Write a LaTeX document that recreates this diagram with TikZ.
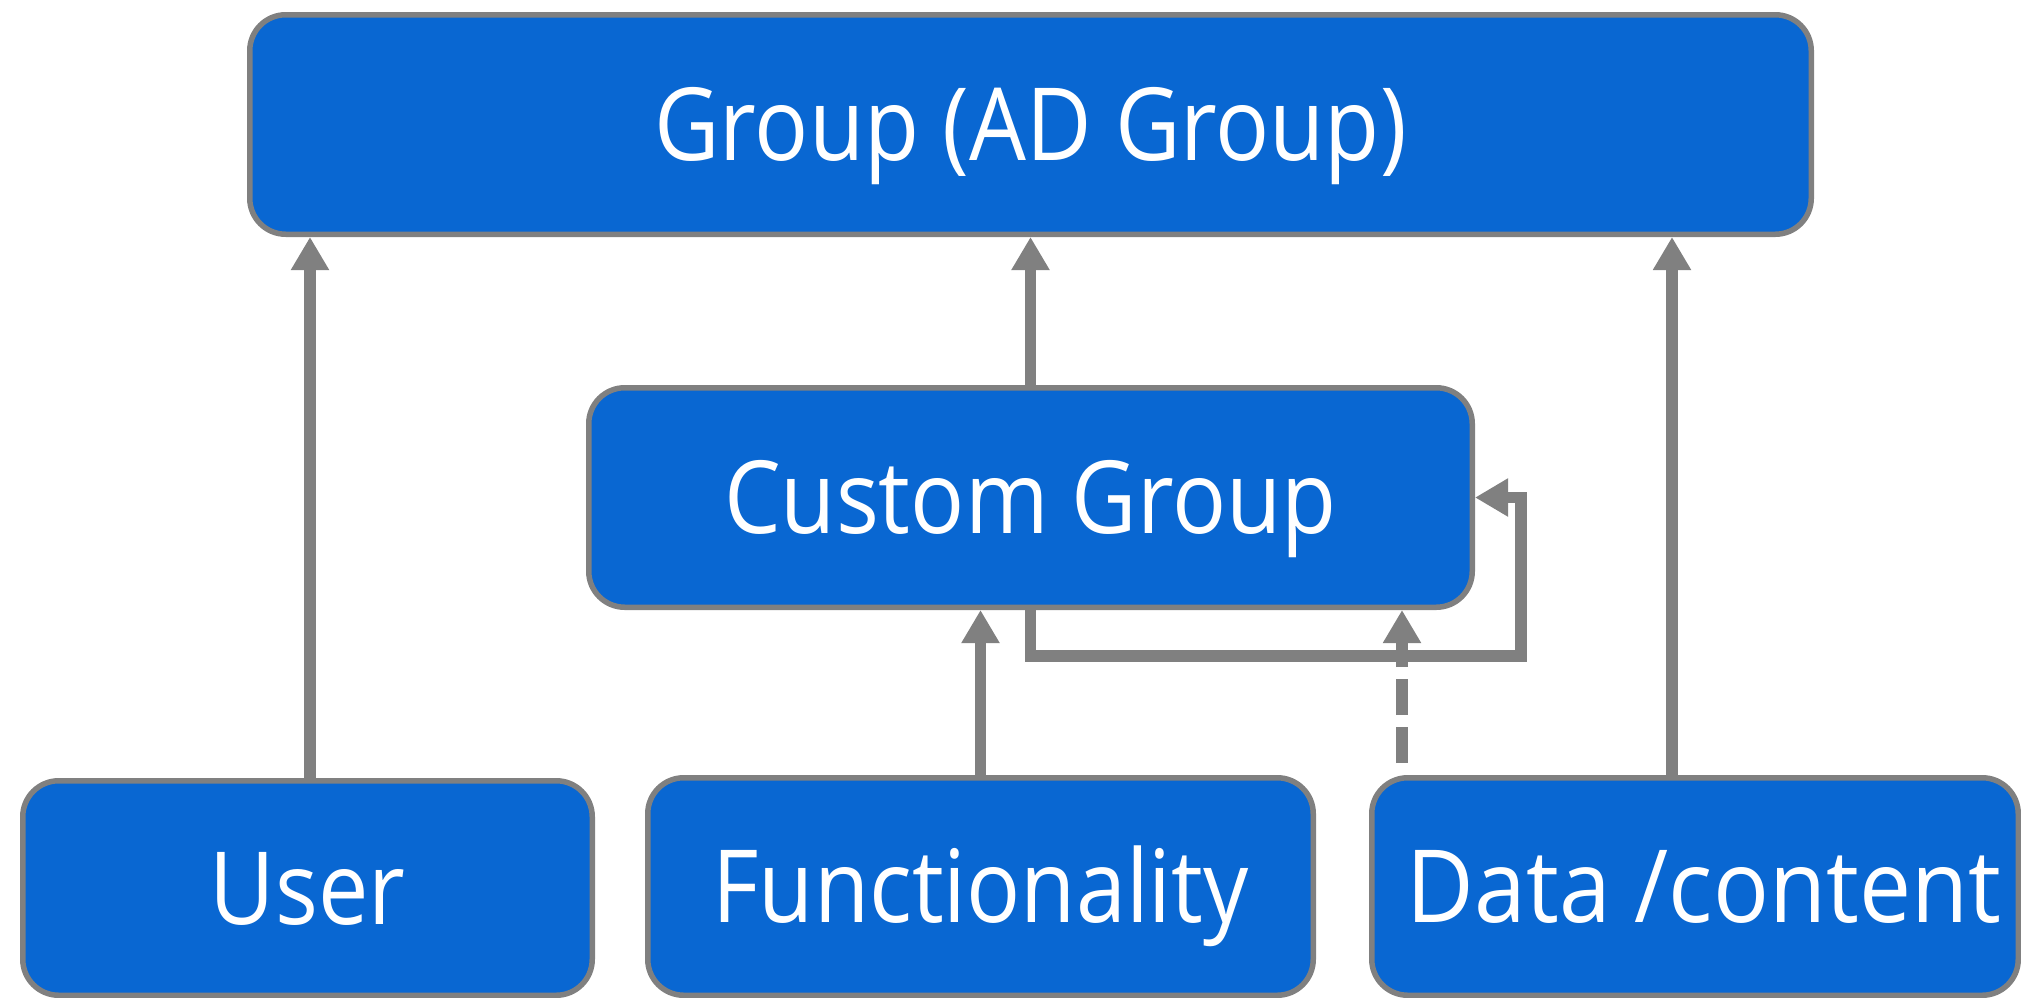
\documentclass[tikz,border=0pt]{standalone}
\usepackage{fontspec}
\setmainfont{Open Sans}
\usetikzlibrary{arrows.meta}
\definecolor{boxblue}{HTML}{0967D2}
\definecolor{linegray}{HTML}{808080}
\newcommand{\boxtxt}[1]{\scalebox{0.89}[1]{#1}}
\begin{document}
\begin{tikzpicture}[x=1pt,y=-1pt,
  box/.style={draw=linegray, line width=5.5pt, fill=boxblue, rounded corners=36pt,
    text=white, font=\fontsize{101}{121}\selectfont, inner sep=0pt, anchor=center,
    text height=72pt, text depth=0pt},
  conn/.style={draw=linegray, line width=11.7pt, -{Triangle[length=33pt,width=36pt]}},
  dashconn/.style={conn, dash pattern=on 36pt off 12pt, dash phase=36pt},
]
\useasboundingbox (0,0) rectangle (2021,997);
\node[box, minimum width=1561.5pt, minimum height=219.5pt] (Group) at (1030.5,124.5) {\boxtxt{Group (AD Group)}};
\node[box, minimum width=883.5pt, minimum height=219.5pt] (Custom) at (1030.5,497.5) {\boxtxt{Custom Group}};
\node[box, minimum width=569.5pt, minimum height=214.5pt] (User) at (307.5,888) {\boxtxt{User}};
\node[box, minimum width=665.5pt, minimum height=217.5pt] (Func) at (980.5,886.5) {\boxtxt{Functionality}};
\node[box, minimum width=646.5pt, minimum height=217.5pt] (Data) at (1695,886.5) {\hspace*{18pt}\scalebox{0.92}[1]{Data /content}};
\coordinate (bendR) at (1521,656);
\draw[conn] ([xshift=2.5pt]User.north) -- ([xshift=2.5pt]User.north |- Group.south);
\draw[conn] (Custom.north) -- (Group.south);
\draw[conn] ([xshift=303pt]Data.north west) -- ([xshift=303pt]Data.north west |- Group.south);
\draw[conn] (Func.north) -- (Func.north |- Custom.south);
\draw[dashconn] ([xshift=33pt]Data.north west) -- ([xshift=33pt]Data.north west |- Custom.south);
\draw[conn] (Custom.south) |- (bendR) |- (Custom.east);
\end{tikzpicture}
\end{document}
